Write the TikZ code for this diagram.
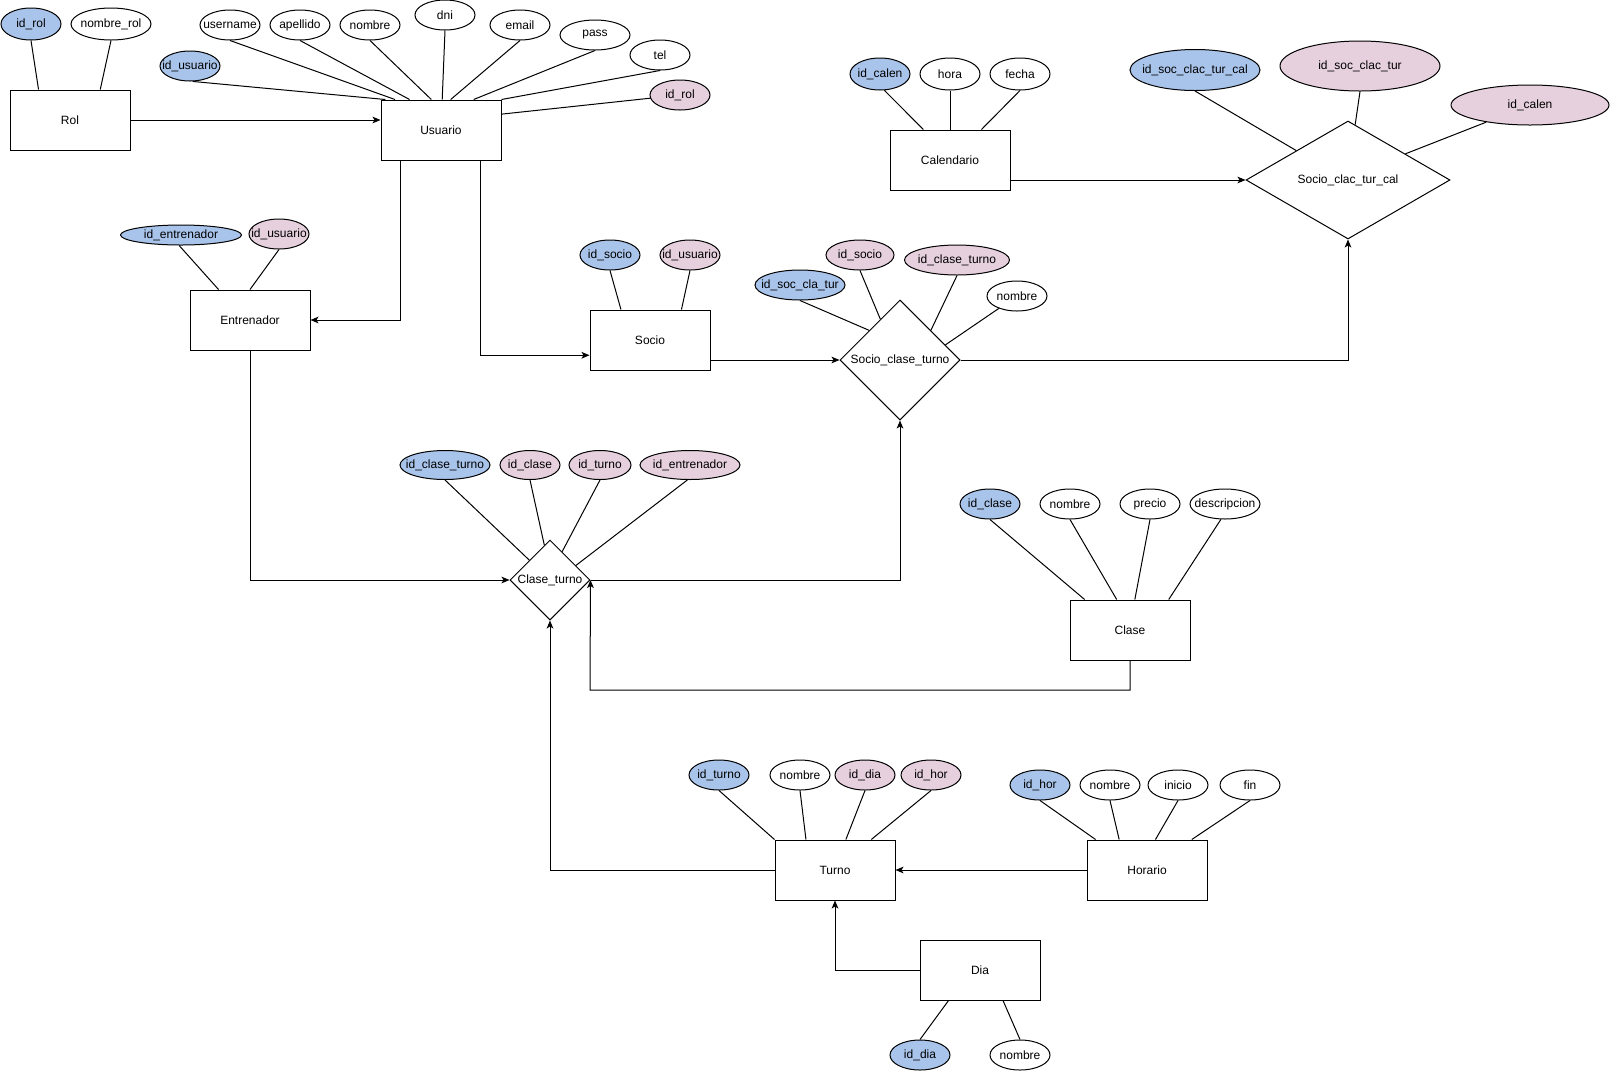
\documentclass[tikz,border=0pt]{standalone}
\usepackage{fontspec}
\setmainfont{Liberation Sans}
\usetikzlibrary{shapes.geometric,arrows.meta,calc}
\definecolor{pkfill}{HTML}{A9C4EB}
\definecolor{fkfill}{HTML}{E6D0DE}
% text that may overflow its shape without enlarging it
\newcommand\zw[1]{\makebox[0pt]{#1}}
\begin{document}
\begin{tikzpicture}[x=0.75pt,y=-0.75pt,
  font=\fontsize{9}{10.8}\selectfont,
  line width=0.75pt,
  ent/.style={draw, fill=white, rectangle, minimum width=90pt, minimum height=45pt, inner sep=0pt},
  rel/.style={draw, fill=white, diamond, inner sep=0pt},
  attr/.style={draw, fill=white, ellipse, inner sep=0pt, minimum width=45pt, minimum height=22.5pt},
  key/.style={attr, fill=pkfill},
  fkey/.style={attr, fill=fkfill},
  ew/.style={minimum width=#1*0.75pt},
  eh/.style={minimum height=#1*0.75pt},
  link/.style={-{Stealth[length=6pt,width=5pt,inset=1.5pt]}},
]
\fill[white] (0,0) rectangle (1611,1072);
\useasboundingbox (0,0) rectangle (1611,1072);

% ---------- entities ----------
\node[ent] (rol)     at (70,120)   {Rol};
\node[ent] (usuario) at (441,130)  {Usuario};
\node[ent] (entren)  at (250,320)  {Entrenador};
\node[ent] (socio)   at (650,340)  {Socio};
\node[ent] (cal)     at (950,160)  {Calendario};
\node[ent] (clase)   at (1130,630) {Clase};
\node[ent] (turno)   at (835,870)  {Turno};
\node[ent] (horario) at (1147,870) {Horario};
\node[ent] (dia)     at (980,970)  {Dia};

% ---------- relationships ----------
\node[rel, minimum width=153pt, minimum height=88.5pt] (sctc) at (1348,180) {\zw{Socio\_clac\_tur\_cal}};
\node[rel, minimum width=90pt, minimum height=90pt] (sct) at (900,360) {\zw{Socio\_clase\_turno}};
\node[rel, minimum width=60pt, minimum height=60pt] (ct) at (550,580) {\zw{Clase\_turno}};

% ---------- attributes: Rol ----------
\node[key, ew=60, eh=32] (r1) at (31,24) {\zw{id\_rol}};
\node[attr, ew=80, eh=32] (r2) at (111,24) {\zw{nombre\_rol}};
\draw (r1.south) -- ($(rol.north west)!.24!(rol.north east)$);
\draw (r2.south) -- ($(rol.north west)!.75!(rol.north east)$);

% ---------- attributes: Usuario ----------
\node[key] (u1) at (190,66) {\zw{id\_usuario}};
\node[attr] (u2) at (230,25) {\zw{username}};
\node[attr] (u3) at (300,25) {\zw{apellido}};
\node[attr] (u4) at (370,25) {\zw{nombre}};
\node[attr] (u5) at (445,15) {\zw{dni}};
\node[attr] (u6) at (520,25) {\zw{email}};
\node[attr, ew=70] (u7) at (595,35) {\zw{pass}};
\node[attr] (u8) at (660,55) {\zw{tel}};
\node[fkey] (u9) at (680,95) {\zw{id\_rol}};
\draw (u1.-80) -- ($(usuario.north west)!.04!(usuario.north east)$);
\draw (u2.south) -- ($(usuario.north west)!.12!(usuario.north east)$);
\draw (u3.south) -- ($(usuario.north west)!.24!(usuario.north east)$);
\draw (u4.south) -- ($(usuario.north west)!.42!(usuario.north east)$);
\draw (u5.south) -- ($(usuario.north west)!.51!(usuario.north east)$);
\draw (u6.south) -- ($(usuario.north west)!.58!(usuario.north east)$);
\draw (u7.south) -- ($(usuario.north west)!.77!(usuario.north east)$);
\draw (u8.south) -- (usuario.north east);
\draw (u9) -- ($(usuario.north east)!.24!(usuario.south east)$);

% ---------- attributes: Entrenador ----------
\node[key, ew=121, eh=20] (e1) at (181,235) {\zw{id\_entrenador}};
\node[fkey] (e2) at (279,234) {\zw{id\_usuario}};
\draw (e1.-100) -- ($(entren.north west)!.24!(entren.north east)$);
\draw (e2.south) -- ($(entren.north west)!.5!(entren.north east)$);

% ---------- attributes: Socio ----------
\node[key] (s1) at (610,255) {\zw{id\_socio}};
\node[fkey] (s2) at (690,255) {\zw{id\_usuario}};
\draw (s1.south) -- ($(socio.north west)!.26!(socio.north east)$);
\draw (s2.south) -- ($(socio.north west)!.76!(socio.north east)$);

% ---------- attributes: Socio_clase_turno ----------
\node[key, ew=90] (c1) at (800,285) {\zw{id\_soc\_cla\_tur}};
\node[fkey, ew=68] (c2) at (860,255) {\zw{id\_socio}};
\node[fkey, ew=105] (c3) at (957,260) {\zw{id\_clase\_turno}};
\node[attr] (c4) at (1017,296) {\zw{nombre}};
\draw (c1.south) -- ($(sct.west)!.49!(sct.north)$);
\draw (c2.south) -- ($(sct.west)!.675!(sct.north)$);
\draw (c3.south) -- ($(sct.north)!.51!(sct.east)$);
\draw (c4) -- ($(sct.north)!.75!(sct.east)$);

% ---------- attributes: Calendario ----------
\node[key, eh=32] (k1) at (880,74) {\zw{id\_calen}};
\node[attr, eh=32] (k2) at (950,74) {\zw{hora}};
\node[attr, eh=32] (k3) at (1020,74) {\zw{fecha}};
\draw (k1.-75) -- ($(cal.north west)!.28!(cal.north east)$);
\draw (k2.south) -- ($(cal.north west)!.5!(cal.north east)$);
\draw (k3.south) -- ($(cal.north west)!.76!(cal.north east)$);

% ---------- attributes: Socio_clac_tur_cal ----------
\node[key, ew=130, eh=41] (m1) at (1195,70) {\zw{id\_soc\_clac\_tur\_cal}};
\node[fkey, ew=160, eh=50] (m2) at (1360,66) {\zw{id\_soc\_clac\_tur}};
\node[fkey, ew=158, eh=40] (m3) at (1530,105) {\zw{id\_calen}};
\draw (m1.south) -- ($(sctc.west)!.495!(sctc.north)$);
\draw (m2.south) -- ($(sctc.north)!.07!(sctc.east)$);
\draw (m3) -- ($(sctc.north)!.56!(sctc.east)$);

% ---------- attributes: Clase_turno ----------
\node[key, ew=90, eh=29] (t1) at (445,465) {\zw{id\_clase\_turno}};
\node[fkey, eh=29] (t2) at (530,465) {\zw{id\_clase}};
\node[fkey, ew=62, eh=29] (t3) at (600,465) {\zw{id\_turno}};
\node[fkey, ew=100, eh=29] (t4) at (690,465) {\zw{id\_entrenador}};
\draw (t1.south) -- ($(ct.west)!.49!(ct.north)$);
\draw (t2.south) -- ($(ct.west)!.86!(ct.north)$);
\draw (t3.south) -- ($(ct.north)!.3!(ct.east)$);
\draw (t4.-100) -- ($(ct.north)!.64!(ct.east)$);

% ---------- attributes: Clase ----------
\node[key] (l1) at (990,504) {\zw{id\_clase}};
\node[attr] (l2) at (1070,504) {\zw{nombre}};
\node[attr] (l3) at (1150,504) {\zw{precio}};
\node[attr, ew=70] (l4) at (1225,504) {\zw{descripcion}};
\draw (l1.south) -- ($(clase.north west)!.125!(clase.north east)$);
\draw (l2.south) -- ($(clase.north west)!.39!(clase.north east)$);
\draw (l3.south) -- ($(clase.north west)!.54!(clase.north east)$);
\draw (l4.-105) -- ($(clase.north west)!.82!(clase.north east)$);

% ---------- attributes: Turno ----------
\node[key] (n1) at (719,775) {\zw{id\_turno}};
\node[attr] (n2) at (800,775) {\zw{nombre}};
\node[fkey] (n3) at (865,775) {\zw{id\_dia}};
\node[fkey] (n4) at (931,775) {\zw{id\_hor}};
\draw (n1.south) -- (turno.north west);
\draw (n2.south) -- ($(turno.north west)!.26!(turno.north east)$);
\draw (n3.south) -- ($(turno.north west)!.59!(turno.north east)$);
\draw (n4.south) -- ($(turno.north west)!.8!(turno.north east)$);

% ---------- attributes: Horario ----------
\node[key] (h1) at (1040,785) {\zw{id\_hor}};
\node[attr] (h2) at (1110,785) {\zw{nombre}};
\node[attr] (h3) at (1178,785) {\zw{inicio}};
\node[attr] (h4) at (1250,785) {\zw{fin}};
\draw (h1.south) -- ($(horario.north west)!.075!(horario.north east)$);
\draw (h2.south) -- ($(horario.north west)!.27!(horario.north east)$);
\draw (h3.south) -- ($(horario.north west)!.57!(horario.north east)$);
\draw (h4.south) -- ($(horario.north west)!.87!(horario.north east)$);

% ---------- attributes: Dia ----------
\node[key] (d1) at (920,1055) {\zw{id\_dia}};
\node[attr] (d2) at (1020,1055) {\zw{nombre}};
\draw (d1.north) -- ($(dia.south west)!.24!(dia.south east)$);
\draw (d2.north) -- ($(dia.south west)!.69!(dia.south east)$);

% ---------- connectors ----------
\coordinate (claseBend) at (590,690);
\draw[link] (rol.east) -- (rol.east -| usuario.west);
\draw[link] ($(usuario.south west)!.167!(usuario.south east)$) |- (entren.east);
\draw[link] ($(usuario.south west)!.83!(usuario.south east)$) |- ($(socio.north west)!.75!(socio.south west)$);
\draw[link] (sct.west -| socio.east) -- (sct.west);
\draw[link] (sct.east) -| (sctc.south);
\draw[link] (sctc.west -| cal.east) -- (sctc.west);
\draw[link] (entren.south) |- (ct.west);
\draw[link] (ct.east) -| (sct.south);
\draw[link] (clase.south) |- (claseBend) -- (ct.east);
\draw[link] (turno.west) -| (ct.south);
\draw[link] (horario.west) -- (turno.east);
\draw[link] (dia.west) -| (turno.south);
\end{tikzpicture}
\end{document}
